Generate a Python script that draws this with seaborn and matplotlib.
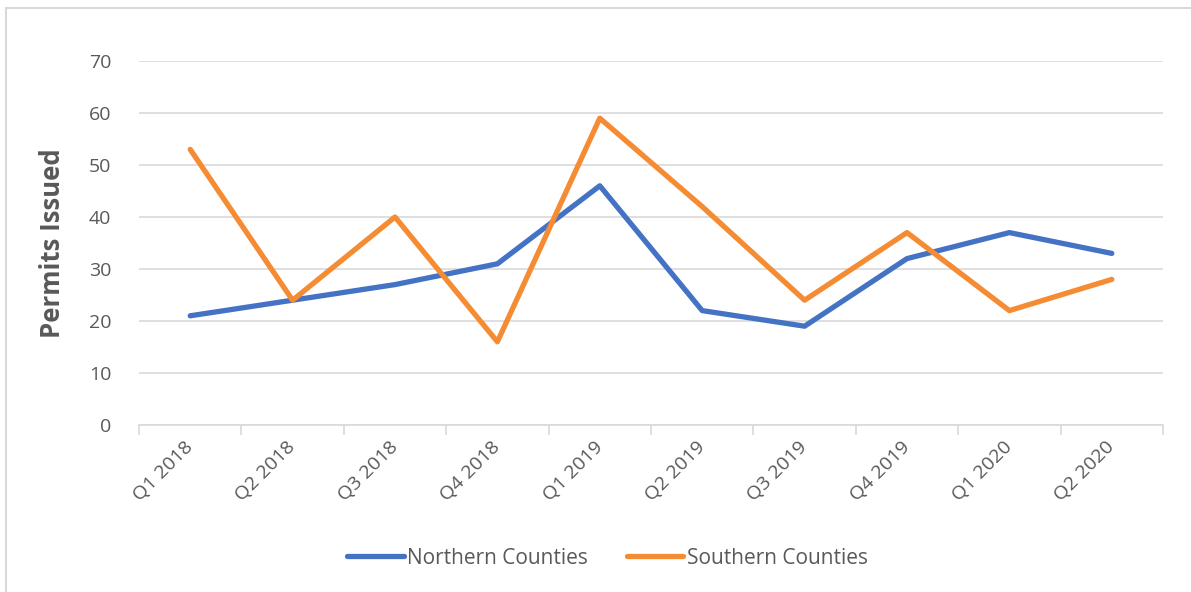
import numpy as np
import pandas as pd
import matplotlib
matplotlib.use("Agg")
import matplotlib.pyplot as plt
import seaborn as sns
from matplotlib.lines import Line2D

quarters = ["Q1 2018", "Q2 2018", "Q3 2018", "Q4 2018", "Q1 2019",
            "Q2 2019", "Q3 2019", "Q4 2019", "Q1 2020", "Q2 2020"]
northern = [21, 24, 27, 31, 46, 22, 19, 32, 37, 33]
southern = [53, 24, 40, 16, 59, 42, 24, 37, 22, 28]
series_names = ["Northern Counties", "Southern Counties"]
colors = ["#4472C4", "#F58B32"]
y_ticks = [0, 10, 20, 30, 40, 50, 60, 70]

df = pd.DataFrame({
    "Quarter": quarters * 2,
    "Permits": northern + southern,
    "Region": [series_names[0]] * len(quarters) + [series_names[1]] * len(quarters),
})

sns.set_theme(style="white")
plt.rcParams["font.family"] = ["Open Sans", "DejaVu Sans"]
text_gray = "#595959"
grid_gray = "#D9D9D9"

fig = plt.figure(figsize=(11.91, 5.92), dpi=100)
ax = fig.add_axes([139 / 1191, 1 - 425 / 592, (1163 - 139) / 1191, (425 - 61) / 592])

sns.lineplot(data=df, x="Quarter", y="Permits", hue="Region", palette=colors,
             linewidth=3.8, ax=ax, legend=False, sort=False)
for ln in ax.get_lines():
    ln.set_solid_capstyle("round")
    ln.set_solid_joinstyle("round")

ax.set_xlim(-0.5, len(quarters) - 0.5)
ax.set_ylim(0, 70)
ax.set_yticks(y_ticks)
ax.set_yticklabels([str(v) for v in y_ticks], fontsize=14, color=text_gray)
ax.yaxis.grid(True, color=grid_gray, linewidth=1.2)
ax.set_axisbelow(True)
for s in ["top", "right", "left"]:
    ax.spines[s].set_visible(False)
ax.spines["bottom"].set_color(grid_gray)
ax.spines["bottom"].set_linewidth(1.2)
ax.tick_params(axis="y", length=0, pad=20)

ax.set_xticks(range(len(quarters)))
ax.set_xticklabels(quarters, rotation=45, ha="right", va="center",
                   rotation_mode="anchor", fontsize=14, color=text_gray)
ax.tick_params(axis="x", which="major", length=0, pad=14)
ax.set_xticks(np.arange(-0.5, len(quarters), 1.0), minor=True)
ax.tick_params(axis="x", which="minor", bottom=True, length=7, width=1.2,
               color=grid_gray, direction="out")

ax.set_xlabel("")
ax.set_ylabel("Permits Issued", fontsize=18.5, fontweight="bold", color=text_gray, labelpad=16)

handles = [Line2D([0], [0], color=c, linewidth=3.8, solid_capstyle="round") for c in colors]
fig.legend(handles, series_names, loc="center", bbox_to_anchor=(0.5 + 12 / 1191, 1 - 558 / 592),
           ncol=2, frameon=False, fontsize=15, handlelength=2.7, handletextpad=0.15,
           columnspacing=1.9, labelcolor=text_gray)

# outer chart border (left and top edges visible)
fig.add_artist(Line2D([6 / 1191, 6 / 1191], [0, 1 - 8 / 592], transform=fig.transFigure,
                      color=grid_gray, linewidth=1.5))
fig.add_artist(Line2D([6 / 1191, 1], [1 - 8 / 592, 1 - 8 / 592], transform=fig.transFigure,
                      color=grid_gray, linewidth=1.5))

fig.savefig("out.png", dpi=100)
